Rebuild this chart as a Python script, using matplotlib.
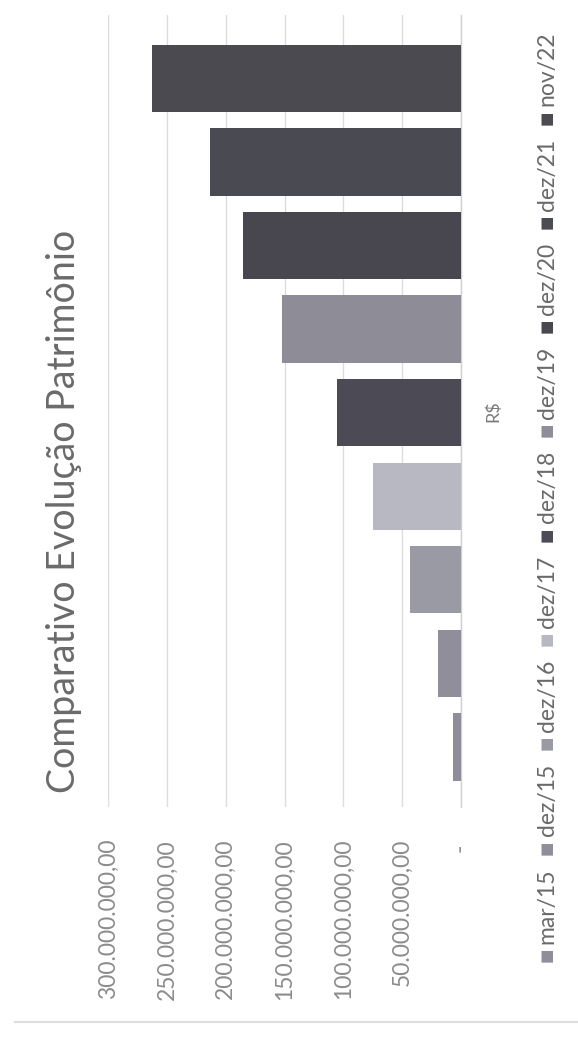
import matplotlib
matplotlib.use("Agg")
import matplotlib.pyplot as plt
from matplotlib.lines import Line2D

plt.rcParams['font.family'] = ['Lato', 'DejaVu Sans']

# dados do gráfico (R$)
periodos = ["mar/15", "dez/15", "dez/16", "dez/17", "dez/18",
            "dez/19", "dez/20", "dez/21", "nov/22"]
valores = [6.8e6, 19.5e6, 43.3e6, 74.8e6, 105.4e6,
           152.1e6, 185.3e6, 213.3e6, 262.6e6]
cores = ["#8e8d99", "#8f8e9a", "#9a9aa4", "#b8b8c2", "#4c4b55",
         "#8d8c97", "#48474f", "#4a4a52", "#4b4a51"]
ticks = [0, 50e6, 100e6, 150e6, 200e6, 250e6, 300e6]
tick_labels = ["- ", "50.000.000,00", "100.000.000,00", "150.000.000,00",
               "200.000.000,00", "250.000.000,00", "300.000.000,00"]
titulo = "Comparativo Evolução Patrimônio"
categoria = "R$"

W, H = 578, 1037
fig = plt.figure(figsize=(W / 100, H / 100), dpi=100)
fig.patch.set_facecolor("white")

# chart is rotated 90 degrees: value axis runs right -> left
ax = fig.add_axes([108 / W, 1 - 807 / H, (461 - 108) / W, (807 - 15) / H])
pos = list(range(len(valores)))
ax.barh(pos, valores, height=0.806, color=cores, zorder=3)
ax.set_xlim(300e6, 0)
ax.set_ylim(-0.72, 8.76)

ax.set_xticks(ticks)
ax.set_xticklabels(tick_labels, rotation=90, ha="center", va="top",
                   fontsize=16.5, color="#8c8c8c")
ax.tick_params(axis="x", length=0, pad=23)
ax.set_yticks([])
ax.grid(axis="x", color="#dcdcdc", linewidth=1.0, zorder=0)
for s in ["top", "bottom", "left"]:
    ax.spines[s].set_visible(False)
ax.spines["right"].set_color("#d0d0d0")
ax.spines["right"].set_linewidth(1.0)

# category label
fig.text(493 / W, 1 - 411 / H, categoria, rotation=90, ha="center", va="center",
         fontsize=13, color="#7a7a7a")

# title
fig.text(64 / W, 1 - 511 / H, titulo, rotation=90, ha="center", va="center",
         fontsize=27, color="#6a6a6a")

# legend, drawn bottom -> top as rotated text, spread over 32..962 px
renderer = fig.canvas.get_renderer()
x_leg = 547 / W
items = []
for nome, cor in zip(periodos, cores):
    m = fig.text(x_leg, 0, "\u25a0", rotation=90, ha="center", va="bottom",
                 fontsize=11, color=cor)
    t = fig.text(x_leg, 0, nome, rotation=90, ha="center", va="bottom",
                 fontsize=16.5, color="#6a6a6a")
    items.append((m, t))

gap_m = 4
leg_bottom, leg_top = H - 962, H - 32
sizes = []
for m, t in items:
    sizes.append((m.get_window_extent(renderer).height,
                  t.get_window_extent(renderer).height))
used = sum(hm + gap_m + ht for hm, ht in sizes)
gap_item = (leg_top - leg_bottom - used) / (len(items) - 1)
y = leg_bottom
for (m, t), (hm, ht) in zip(items, sizes):
    m.set_y(y / H)
    y += hm + gap_m
    t.set_y(y / H)
    y += ht + gap_item

# frame line at the bottom of the scan
fig.add_artist(Line2D([15 / W, 1], [1 - 1022 / H, 1 - 1022 / H],
                      color="#dddddd", linewidth=1.5))

fig.savefig("out.png", dpi=100, facecolor="white")
